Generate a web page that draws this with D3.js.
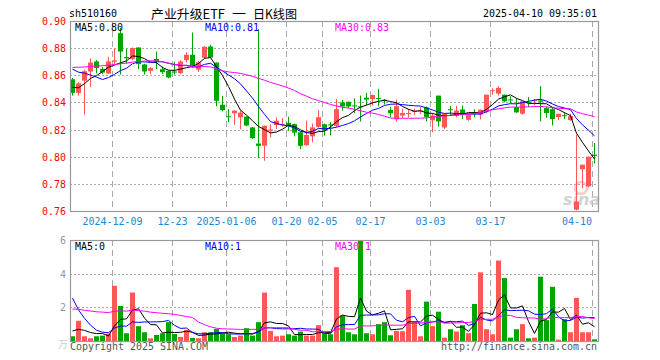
<!DOCTYPE html>
<html><head><meta charset="utf-8">
<script src="https://cdn.jsdelivr.net/npm/d3@7/dist/d3.min.js"></script>
<style>body{margin:0;background:#fff}</style>
</head><body><svg id="c" width="660" height="360"></svg>
<script>
// ---------------- data ----------------
const dates = ["2024-11-28","2024-11-29","2024-12-02","2024-12-03","2024-12-04","2024-12-05","2024-12-06","2024-12-09","2024-12-10","2024-12-11","2024-12-12","2024-12-13","2024-12-16","2024-12-17","2024-12-18","2024-12-19","2024-12-20","2024-12-23","2024-12-24","2024-12-25","2024-12-26","2024-12-27","2024-12-30","2024-12-31","2025-01-02","2025-01-03","2025-01-06","2025-01-07","2025-01-08","2025-01-09","2025-01-10","2025-01-13","2025-01-14","2025-01-15","2025-01-16","2025-01-17","2025-01-20","2025-01-21","2025-01-22","2025-01-23","2025-01-24","2025-01-27","2025-02-05","2025-02-06","2025-02-07","2025-02-10","2025-02-11","2025-02-12","2025-02-13","2025-02-14","2025-02-17","2025-02-18","2025-02-19","2025-02-20","2025-02-21","2025-02-24","2025-02-25","2025-02-26","2025-02-27","2025-02-28","2025-03-03","2025-03-04","2025-03-05","2025-03-06","2025-03-07","2025-03-10","2025-03-11","2025-03-12","2025-03-13","2025-03-14","2025-03-17","2025-03-18","2025-03-19","2025-03-20","2025-03-21","2025-03-24","2025-03-25","2025-03-26","2025-03-27","2025-03-28","2025-03-31","2025-04-01","2025-04-02","2025-04-03","2025-04-07","2025-04-08","2025-04-09","2025-04-10"];
const open  = [.857,.847,.856,.8628,.8702,.8648,.8613,.870,.891,.8735,.872,.8805,.868,.8633,.872,.8645,.8633,.8628,.8616,.8712,.8751,.8642,.873,.8812,.8694,.8383,.8298,.832,.829,.8295,.8216,.8097,.8081,.819,.8233,.8232,.825,.824,.818,.8085,.815,.822,.8239,.8238,.8228,.840,.8405,.8378,.8372,.8435,.8425,.8432,.842,.8345,.8275,.8303,.8318,.833,.8335,.8364,.8268,.845,.8215,.835,.830,.8348,.8272,.8325,.8311,.8334,.8483,.8465,.8457,.8422,.8366,.8317,.8402,.8412,.8415,.8358,.835,.8292,.8306,.827,.761,.7908,.7782,.8015];
const high  = [.858,.855,.864,.8724,.8712,.866,.8736,.880,.895,.8795,.8805,.8805,.8685,.866,.8775,.8665,.8635,.870,.871,.877,.8915,.8705,.8815,.8825,.8695,.8449,.835,.8341,.834,.8297,.8218,.894,.823,.8238,.829,.8285,.8295,.8245,.818,.8265,.8245,.8344,.8245,.8255,.8425,.842,.8405,.843,.845,.847,.8458,.850,.8425,.8368,.842,.8353,.835,.8355,.8365,.837,.8322,.845,.832,.8375,.8375,.8378,.8313,.835,.8348,.8458,.8505,.852,.8458,.8445,.8432,.841,.844,.8425,.852,.837,.8366,.8318,.8328,.8316,.8162,.7942,.8002,.8101];
const low   = [.845,.845,.831,.8515,.8614,.861,.861,.868,.8605,.8685,.871,.8645,.8605,.861,.8645,.861,.8578,.8605,.861,.8695,.8658,.8625,.8725,.8725,.8371,.8334,.8255,.8236,.8202,.8225,.813,.799,.797,.8142,.8205,.822,.8192,.815,.8055,.808,.8106,.8215,.8155,.8157,.822,.834,.836,.832,.826,.838,.8378,.8372,.8385,.829,.8258,.8285,.829,.8305,.8315,.826,.818,.8223,.8203,.8305,.829,.8278,.8265,.829,.8275,.832,.8458,.845,.840,.8395,.8322,.831,.8366,.8378,.826,.8286,.823,.827,.8279,.8265,.7605,.7768,.7775,.795];
const close = [.847,.854,.863,.8694,.8653,.862,.8702,.871,.8775,.8725,.880,.8682,.8628,.8653,.870,.8623,.8584,.862,.8702,.8751,.8667,.8695,.881,.8731,.8412,.8344,.8293,.834,.8325,.823,.8137,.808,.8228,.820,.8265,.824,.8228,.8178,.808,.816,.8216,.8291,.8197,.8234,.835,.837,.837,.8374,.8365,.8421,.8455,.8428,.841,.832,.8373,.8322,.8322,.8338,.834,.8292,.8303,.826,.8318,.8345,.834,.8311,.831,.832,.8346,.8457,.849,.8507,.8408,.8418,.8327,.8408,.8398,.8417,.8405,.8322,.8277,.8316,.8302,.8299,.767,.7941,.800,.8005];
const volume = [.28,1.2,.28,.16,.28,.32,.44,3.28,2.08,.46,2.88,.88,.52,.16,.36,.46,1.12,.42,.24,.66,.18,.16,.52,.52,.72,.46,.4,.24,.32,.76,.32,1.12,2.88,.6,.28,.32,.4,.32,.56,.32,.32,.94,.48,.4,4.38,1.52,.52,.4,5.98,.46,.4,1.0,1.12,.34,.6,.58,3.04,1.14,.28,2.34,.88,1.74,.2,.7,.56,.94,.46,2.2,4.08,.7,.4,4.78,3.74,.2,.7,1.0,.16,.2,3.82,1.24,3.22,.08,1.3,.52,2.56,.52,.52,.1];
// closes and volumes of the 29 sessions before the window (estimated, for moving averages)
const priorCloses = [.850,.858,.855,.860,.853,.857,.862,.856,.858,.859,.853,.857,.856,.872,.884,.886,.890,.886,.889,.888,.876,.870,.884,.880,.880,.855,.848,.850,.855];
const priorVolumes = [1.5,2.1,1.4,1.7,1.0,1.2,0.9,1.3,1.1,1.0,1.8,1.4,2.0,1.3,1.6,1.9,1.5,2.2,2.6,1.9,8.2,5.3,4.2,3.3,1.5,0.7,0.6,0.8,0.6];
const priceTicks = [0.90,0.88,0.86,0.84,0.82,0.80,0.78,0.76];
const volTicks = [6,4,2];
const dateTicks = ["2024-12-09","2024-12-23","2025-01-06","2025-01-20","2025-02-05","2025-02-17","2025-03-03","2025-03-17","2025-04-10"];
const dateTickLabels = ["2024-12-09","12-23","2025-01-06","01-20","02-05","02-17","03-03","03-17","04-10"];
const titleParts = ["产业升级ETF", "一", "日K线图"];
const maPeriods = [5,10,30];
const maColors = ["#000000","#0000ff","#ff00ff"];
const priceMaLabels = ["MA5:0.80","MA10:0.81","MA30:0.83"];
const volMaLabels = ["MA5:0","MA10:1","MA30:1"];

// ---------------- drawing ----------------
const svg = d3.select("#c");
const n = dates.length;
const L = 70, R = 598, pTop = 21, pBot = 211, vTop = 240, vBot = 341;
const RED = "#ff5656", GREEN = "#00a600", GRID = "#a8a8a8";
const MONO = "'DejaVu Sans Mono', 'Liberation Mono', monospace";
const CJK = "'Noto Sans CJK SC', sans-serif";

const x = d3.scaleLinear().domain([0, n]).range([L, R]);
const y = d3.scaleLinear().domain([0.76, 0.90]).range([pBot, pTop]);
const yv = d3.scaleLinear().domain([0, 6]).range([vBot, vTop]);
const xl = i => Math.round(x(i));
const xc = i => Math.round(x(i)) + 2.5;

function monoText(g, str, px, py, color, anchor) {
  const t = g.append("text").attr("x", px).attr("y", py)
    .attr("font-family", MONO).attr("font-size", 11).attr("fill", color)
    .attr("dominant-baseline", "central")
    .attr("textLength", str.length * 6).attr("lengthAdjust", "spacingAndGlyphs")
    .text(str);
  if (anchor) t.attr("text-anchor", anchor);
  return t;
}

function movingAvg(all, prior, k) {
  return d3.range(n).map(i => d3.mean(all.slice(i + prior - k + 1, i + prior + 1)));
}
const allC = priorCloses.concat(close);
const allV = priorVolumes.concat(volume);
const priceMA = maPeriods.map(k => movingAvg(allC, priorCloses.length, k));
const volMA = maPeriods.map(k => movingAvg(allV, priorVolumes.length, k));

// title row
monoText(svg, "sh510160", 69, 13, "#000");
const titleBoxes = [[151, 74], [232, 14], [253, 44]];
titleParts.forEach((t, k) => {
  svg.append("text").attr("x", titleBoxes[k][0]).attr("y", 13).attr("dominant-baseline", "central")
    .attr("font-family", CJK).attr("font-size", 12.5).attr("fill", "#000")
    .attr("textLength", titleBoxes[k][1]).attr("lengthAdjust", "spacingAndGlyphs")
    .text(t);
});
monoText(svg, "2025-04-10 09:35:01", 483, 13, "#000");

// grids
const grid = svg.append("g");
priceTicks.slice(1, -1).forEach(v => {
  const yy = Math.round(y(v)) + 0.5;
  grid.append("line").attr("x1", L).attr("x2", R).attr("y1", yy).attr("y2", yy)
    .attr("stroke", GRID).attr("stroke-dasharray", "2,2");
});
volTicks.slice(1).forEach(v => {
  const yy = Math.round(yv(v)) + 0.5;
  grid.append("line").attr("x1", L).attr("x2", R).attr("y1", yy).attr("y2", yy)
    .attr("stroke", GRID).attr("stroke-dasharray", "2,2");
});
const tickIdx = dateTicks.map(d => dates.indexOf(d));
tickIdx.forEach(i => {
  const xx = xl(i) + 0.5;
  [[pTop, pBot], [vTop, vBot]].forEach(([a, b]) => {
    grid.append("line").attr("x1", xx).attr("x2", xx).attr("y1", a).attr("y2", b)
      .attr("stroke", GRID).attr("stroke-dasharray", "6,4");
  });
});

// axis labels
priceTicks.forEach(v => monoText(svg, v.toFixed(2), 66, Math.round(y(v)), "#ff0000", "end"));
volTicks.forEach(v => monoText(svg, String(v), 66, Math.round(yv(v)), "#999", "end"));
svg.append("text").attr("x", 58).attr("y", 343).attr("font-family", CJK).attr("font-size", 10)
  .attr("fill", "#cfcfcf").attr("dominant-baseline", "central").text("万");
tickIdx.forEach((i, k) => {
  const lab = dateTickLabels[k];
  const last = k === tickIdx.length - 1;
  monoText(svg, lab, last ? xl(i) : xl(i) + 0.5, 221, "#1a86d6", last ? "end" : "middle");
});

// watermark
svg.append("circle").attr("cx", 581).attr("cy", 188).attr("r", 6).attr("fill", "none")
  .attr("stroke", "#f3a0a0").attr("stroke-width", 2.5).attr("opacity", 0.55);
svg.append("text").attr("x", 563).attr("y", 205).attr("font-family", "'DejaVu Sans', sans-serif")
  .attr("font-size", 16).attr("font-style", "italic").attr("font-weight", "bold")
  .attr("fill", "#c8c8c8").attr("opacity", 0.8).text("sina");

// candles
const cg = svg.append("g");
d3.range(n).forEach(i => {
  const up = close[i] >= open[i];
  const col = up ? RED : GREEN;
  cg.append("line").attr("x1", xc(i)).attr("x2", xc(i))
    .attr("y1", y(high[i])).attr("y2", y(low[i])).attr("stroke", col);
  const top = y(Math.max(open[i], close[i])), bot = y(Math.min(open[i], close[i]));
  cg.append("rect").attr("x", xl(i)).attr("width", 5)
    .attr("y", top).attr("height", Math.max(1, bot - top)).attr("fill", col);
  const vt = yv(volume[i]);
  cg.append("rect").attr("x", xl(i)).attr("width", 5)
    .attr("y", vt).attr("height", vBot - vt).attr("fill", col);
});

// moving averages
const lp = d3.line().x((d, i) => xc(i)).y(d => y(d));
const lv = d3.line().x((d, i) => xc(i)).y(d => yv(d));
priceMA.forEach((m, k) => svg.append("path").attr("d", lp(m)).attr("fill", "none")
  .attr("stroke", maColors[k]).attr("stroke-width", 1));
volMA.forEach((m, k) => svg.append("path").attr("d", lv(m)).attr("fill", "none")
  .attr("stroke", maColors[k]).attr("stroke-width", 1));

// MA labels
const labX = [75, 205, 335];
priceMaLabels.forEach((t, k) => monoText(svg, t, labX[k], 27.5, maColors[k]));
volMaLabels.forEach((t, k) => monoText(svg, t, labX[k], 246, maColors[k]));

// frames
[[pTop, pBot], [vTop, vBot]].forEach(([a, b]) => {
  svg.append("rect").attr("x", L + 0.5).attr("y", a + 0.5).attr("width", R - L).attr("height", b - a)
    .attr("fill", "none").attr("stroke", "#999").attr("stroke-width", 1.2);
});

// footer
monoText(svg, "Copyright 2025 SINA.COM", 70, 346, "#555");
monoText(svg, "http://finance.sina.com.cn", 597, 346, "#555", "end");
</script></body></html>
